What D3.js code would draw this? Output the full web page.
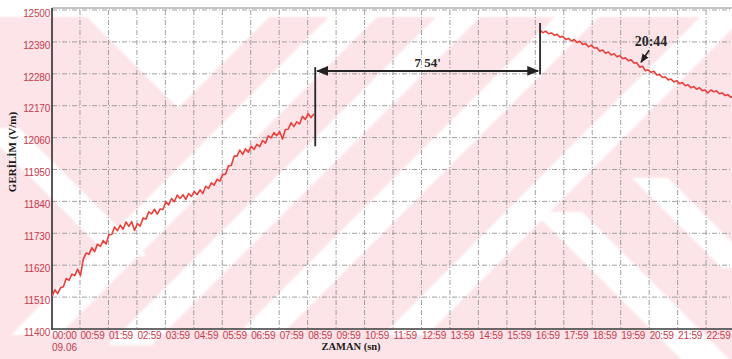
<!DOCTYPE html>
<html>
<head>
<meta charset="utf-8">
<script src="https://cdn.jsdelivr.net/npm/d3@7/dist/d3.min.js"></script>
<style>
  html, body { margin: 0; padding: 0; background: #ffffff; }
  svg { display: block; }
</style>
</head>
<body>
<svg id="chart" width="732" height="359"></svg>
<script>
// Time axis labels (hh:mm); their minute offsets drive the tick positions
const timeLabels = ["00:00","00:59","01:59","02:59","03:59","04:59","05:59","06:59","07:59","08:59",
  "09:59","10:59","11:59","12:59","13:59","14:59","15:59","16:59","17:59","18:59","19:59","20:59","21:59","22:59"];
const dateLabel = "09.06";

// Field strength ticks (V/m)
const fieldTicks = [11400,11510,11620,11730,11840,11950,12060,12170,12280,12390,12500];

// First recording: starts 00:00, one sample every 6 minutes
const seg1Start = 0;
const seg1Step = 6;
const seg1Values = [11512,11535,11522,11542,11546,11574,11568,11589,11584,11607,
  11584,11641,11662,11658,11680,11667,11693,11685,11705,11693,
  11725,11726,11752,11739,11758,11744,11769,11754,11770,11740,
  11763,11755,11783,11779,11804,11797,11813,11796,11814,11812,
  11839,11828,11850,11839,11862,11850,11863,11847,11867,11857,
  11874,11863,11880,11867,11892,11885,11904,11896,11916,11910,
  11933,11934,11963,11964,11996,11996,12017,12002,12021,12010,
  12030,12019,12037,12029,12050,12041,12066,12059,12077,12067,
  12080,12055,12088,12089,12111,12098,12114,12107,12133,12123,
  12142,12129,12141];

// Second recording: starts 17:09, one sample every 6 minutes
const seg2Start = 1029;
const seg2Step = 6;
const seg2Values = [12430,12422,12427,12418,12421,12413,12416,12406,12409,12398,
  12402,12393,12398,12388,12392,12381,12384,12373,12379,12369,
  12370,12358,12362,12351,12355,12345,12349,12339,12343,12332,
  12335,12325,12328,12317,12318,12303,12306,12291,12294,12285,
  12289,12276,12278,12267,12269,12259,12262,12252,12256,12246,
  12250,12239,12242,12232,12236,12227,12232,12222,12224,12214,
  12224,12218,12221,12211,12214,12205,12208,12199,12203];

// Gap between the recordings and the marked instant
const gapFrom = 555;          // end of first recording (min)
const gapTo = 1029;           // start of second recording (min)
const gapLabel = "7 54'";
const markTime = 1244;        // 20:44
const markLabel = "20:44";

const toMinutes = s => { const [h, m] = s.split(":").map(Number); return h * 60 + m; };

const svg = d3.select("#chart");
const W = 732, H = 359;
const plotLeft = 52, plotTop = 10, plotBottom = 329;

const x = d3.scaleLinear().domain([0, 1440]).range([plotLeft, 735]);
const y = d3.scaleLinear().domain([11400, 12500]).range([plotBottom, plotTop]);

const defs = svg.append("defs");
defs.append("filter").attr("id", "soft").append("feGaussianBlur").attr("stdDeviation", 1.2);
defs.append("marker").attr("id", "headEnd").attr("viewBox", "0 0 10 10").attr("refX", 9).attr("refY", 5)
  .attr("markerWidth", 6).attr("markerHeight", 6).attr("orient", "auto")
  .append("path").attr("d", "M0,1 L10,5 L0,9 Z").attr("fill", "#222");
defs.append("marker").attr("id", "headStart").attr("viewBox", "0 0 10 10").attr("refX", 1).attr("refY", 5)
  .attr("markerWidth", 6).attr("markerHeight", 6).attr("orient", "auto")
  .append("path").attr("d", "M10,1 L0,5 L10,9 Z").attr("fill", "#222");
defs.append("clipPath").attr("id", "plotClip").append("rect")
  .attr("x", plotLeft).attr("y", plotTop - 2).attr("width", W - plotLeft).attr("height", plotBottom - plotTop + 2);

// ---- background watermark: pale pink with white diagonal bands ----
const bg = svg.append("g").attr("filter", "url(#soft)");
bg.append("rect").attr("x", -5).attr("y", 17).attr("width", W + 10).attr("height", H - 12).attr("fill", "#fce4e8");
const band = (x1, y1, x2, y2, h) => [[x1 - h, y1], [x1 + h, y1], [x2 + h, y2], [x2 - h, y2]];
const whiteShapes = [
  [[87, 17], [269, 17], [178, 108]],
  band(35, 335, 353, 17, 24),
  band(130, 345, 458, 17, 22),
  band(262, 332, 577, 17, 22),
  band(405, 335, 722, 17, 22),
  band(0, 128, 128, 256, 19),
  band(558, 212, 708, 362, 24),
  band(650, 178, 740, 268, 18)
];
bg.selectAll("polygon").data(whiteShapes).join("polygon")
  .attr("points", d => d.map(p => p.join(",")).join(" "))
  .attr("fill", "#ffffff");

// ---- grid ----
const tickMinutes = timeLabels.map(toMinutes);
const grid = svg.append("g").attr("stroke", "#8a8a8a").attr("stroke-width", 0.8)
  .attr("stroke-dasharray", "5,2,1,2").attr("fill", "none");
grid.selectAll("line.v").data(tickMinutes.slice(1)).join("line").attr("class", "v")
  .attr("x1", d => x(d)).attr("x2", d => x(d)).attr("y1", plotTop).attr("y2", plotBottom);
grid.selectAll("line.h").data(fieldTicks.slice(1)).join("line").attr("class", "h")
  .attr("x1", plotLeft).attr("x2", W).attr("y1", d => y(d)).attr("y2", d => y(d));

// ---- axes ----
const labelColor = "#c83a4c";
const yAxis = svg.append("g").attr("transform", `translate(${plotLeft},0)`)
  .call(d3.axisLeft(y).tickValues(fieldTicks).tickSize(0).tickPadding(2).tickFormat(d3.format("d")));
yAxis.select(".domain").remove();
yAxis.selectAll("text").attr("fill", labelColor).attr("font-family", "Liberation Sans, Arial, sans-serif")
  .attr("font-size", 10).attr("dy", "0.62em").attr("letter-spacing", -0.2);

const xAxis = svg.append("g").attr("transform", `translate(0,${plotBottom})`)
  .call(d3.axisBottom(x).tickValues(tickMinutes).tickSize(0).tickPadding(3)
    .tickFormat((d, i) => timeLabels[i]));
xAxis.select(".domain").remove();
xAxis.selectAll("text").attr("fill", labelColor).attr("font-family", "Liberation Sans, Arial, sans-serif")
  .attr("font-size", 10).attr("text-anchor", "start").attr("letter-spacing", -0.2);

svg.append("text").attr("x", x(0)).attr("y", 351).text(dateLabel)
  .attr("fill", labelColor).attr("font-family", "Liberation Sans, Arial, sans-serif").attr("font-size", 10);

// frame
svg.append("line").attr("x1", plotLeft).attr("x2", W).attr("y1", 8).attr("y2", 8)
  .attr("stroke", "#8a8a8a").attr("stroke-width", 1);
svg.append("line").attr("x1", plotLeft).attr("x2", plotLeft).attr("y1", 8).attr("y2", plotBottom + 1)
  .attr("stroke", "#2e2e2e").attr("stroke-width", 1.6);
svg.append("line").attr("x1", plotLeft).attr("x2", W).attr("y1", plotBottom).attr("y2", plotBottom)
  .attr("stroke", "#3a3a3a").attr("stroke-width", 1.6);

// axis titles
svg.append("text").attr("transform", "translate(16,152) rotate(-90)").attr("text-anchor", "middle")
  .attr("font-family", "Liberation Serif, Times New Roman, serif").attr("font-weight", "bold")
  .attr("font-size", 11).attr("fill", "#1a1a1a").text("GERİLİM (V/m)");
svg.append("text").attr("x", 351).attr("y", 350).attr("text-anchor", "middle")
  .attr("font-family", "Liberation Serif, Times New Roman, serif").attr("font-weight", "bold")
  .attr("font-size", 10.5).attr("fill", "#1a1a1a").text("ZAMAN (sn)");

// ---- data lines ----
const seg1 = seg1Values.map((v, i) => [seg1Start + i * seg1Step, v]);
const seg2 = seg2Values.map((v, i) => [seg2Start + i * seg2Step, v]);
const line = d3.line().x(d => x(d[0])).y(d => y(d[1]));
const plot = svg.append("g").attr("clip-path", "url(#plotClip)");
plot.selectAll("path.series").data([seg1, seg2]).join("path").attr("class", "series")
  .attr("d", line).attr("fill", "none").attr("stroke", "#ea3f3a").attr("stroke-width", 1.6)
  .attr("stroke-linejoin", "round");

// ---- gap annotation ----
const ann = svg.append("g").attr("stroke", "#262626").attr("fill", "none");
ann.append("line").attr("x1", x(gapFrom)).attr("x2", x(gapFrom)).attr("y1", y(12303)).attr("y2", y(12030))
  .attr("stroke-width", 1.8);
ann.append("line").attr("x1", x(gapTo)).attr("x2", x(gapTo)).attr("y1", y(12455)).attr("y2", y(12278))
  .attr("stroke-width", 1.8);
ann.append("line").attr("x1", x(gapFrom) + 2).attr("x2", x(gapTo) - 2).attr("y1", y(12290)).attr("y2", y(12290))
  .attr("stroke-width", 2).attr("marker-start", "url(#headStart)").attr("marker-end", "url(#headEnd)");
svg.append("text").attr("x", (x(gapFrom) + x(gapTo)) / 2).attr("y", y(12290) - 4)
  .attr("text-anchor", "middle").attr("font-family", "Liberation Serif, Times New Roman, serif")
  .attr("font-weight", "bold").attr("font-size", 13).attr("fill", "#262626").text(gapLabel);

// ---- marked instant ----
const mi = Math.round((markTime - seg2Start) / seg2Step);
const tipX = x(markTime) - 1, tipY = y(seg2Values[mi]) - 4;
ann.append("line").attr("x1", tipX + 8).attr("y1", tipY - 12).attr("x2", tipX).attr("y2", tipY)
  .attr("stroke-width", 1.5).attr("marker-end", "url(#headEnd)");
svg.append("text").attr("x", tipX + 10).attr("y", tipY - 16).attr("text-anchor", "middle")
  .attr("font-family", "Liberation Serif, Times New Roman, serif").attr("font-weight", "bold")
  .attr("font-size", 14).attr("fill", "#262626").text(markLabel);
</script>
</body>
</html>
